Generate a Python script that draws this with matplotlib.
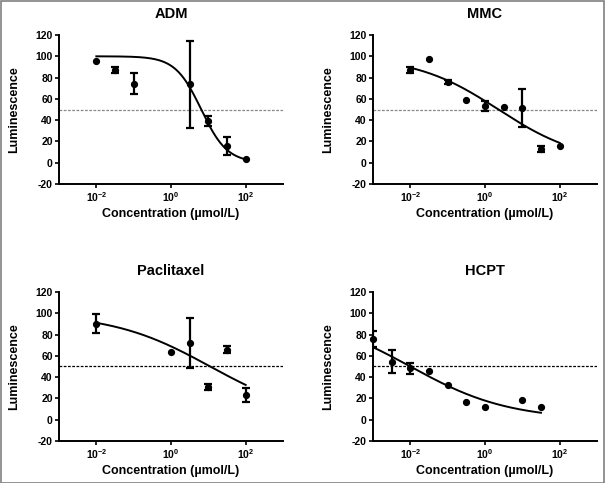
import numpy as np
import matplotlib
matplotlib.use('Agg')
import matplotlib.pyplot as plt
from matplotlib.patches import Rectangle

plt.rcParams['font.family'] = ['Liberation Sans', 'DejaVu Sans']
plt.rcParams['font.weight'] = 'bold'
plt.rcParams['mathtext.fontset'] = 'custom'
plt.rcParams['mathtext.rm'] = 'Liberation Sans:bold'
plt.rcParams['mathtext.it'] = 'Liberation Sans:bold'
plt.rcParams['axes.unicode_minus'] = False

# ADM
adm_x = [0.01, 0.0316, 0.1, 3.16, 10, 31.6, 100]
adm_y = [95.3, 86.8, 74.3, 73.7, 39.2, 15.7, 3.2]
adm_err = [0, 2.8, 10.2, 40.7, 5.0, 8.5, 0]
adm_fit = (100, 0, 0.81, 1.25)  # top, bottom, logIC50, hill
adm_range = (0.01, 100)

# MMC
mmc_x = [0.01, 0.0316, 0.1, 0.316, 1, 3.16, 10, 31.6, 100]
mmc_y = [87.0, 97.4, 76.0, 59.1, 53.2, 52.2, 51.6, 13.3, 15.7]
mmc_err = [2.8, 0, 1.8, 0, 4.8, 0, 17.7, 2.8, 0]
mmc_fit = (100, 0, 0.36, 0.39)
mmc_range = (0.01, 100)

# Paclitaxel
pac_x = [0.01, 1, 3.16, 10, 31.6, 100]
pac_y = [90.3, 64.0, 72.0, 30.7, 65.9, 23.2]
pac_err = [8.8, 0, 23.6, 3.0, 3.5, 6.4]
pac_fit = (100, 0, 1.05, 0.33)
pac_range = (0.01, 100)

# HCPT
hcpt_x = [0.001, 0.00316, 0.01, 0.0316, 0.1, 0.316, 1, 10, 31.6]
hcpt_y = [75.5, 54.5, 48.3, 45.5, 32.6, 16.6, 12.2, 18.8, 12.2]
hcpt_err = [7.5, 10.8, 5.0, 0, 0, 0, 0, 0, 0]
hcpt_fit = (100, 0, -2.0, 0.33)
hcpt_range = (0.001, 31.6)

panels = [
    ('ADM', adm_x, adm_y, adm_err, adm_fit, adm_range, '#888888'),
    ('MMC', mmc_x, mmc_y, mmc_err, mmc_fit, mmc_range, '#888888'),
    ('Paclitaxel', pac_x, pac_y, pac_err, pac_fit, pac_range, 'black'),
    ('HCPT', hcpt_x, hcpt_y, hcpt_err, hcpt_fit, hcpt_range, 'black'),
]

W, H = 605, 483
fig = plt.figure(figsize=(W / 100, H / 100), dpi=100)
fig.patches.append(Rectangle((0.001, 0.001), 0.997, 0.997, transform=fig.transFigure,
                             fill=False, edgecolor='#808080', linewidth=1.2))

# axes boxes in pixels: left, top, right, bottom
boxes = [(59, 35, 283, 184), (373, 35, 597, 184),
         (59, 292, 283, 441), (373, 292, 597, 441)]

for (title, x, y, err, fit, rng, dcol), (l, t, r, b) in zip(panels, boxes):
    ax = fig.add_axes([l / W, 1 - b / H, (r - l) / W, (b - t) / H])
    x = np.array(x)
    y = np.array(y)
    err = np.array(err)

    top, bottom, logc, hill = fit
    xs = np.logspace(np.log10(rng[0]), np.log10(rng[1]), 200)
    ys = bottom + (top - bottom) / (1 + 10 ** ((np.log10(xs) - logc) * hill))
    ax.plot(xs, ys, color='black', lw=1.4, zorder=3)

    ax.axhline(50, color=dcol, lw=0.9, dashes=(2.2, 1.2), zorder=1)

    m = err > 0
    ax.errorbar(x[m], y[m], yerr=err[m], fmt='none', ecolor='black',
                elinewidth=1.6, capsize=2.6, capthick=1.6, zorder=4)
    ax.plot(x, y, 'o', color='black', ms=4.2, zorder=5, clip_on=False)

    ax.set_xscale('log')
    ax.set_xlim(1e-3, 1e3)
    ax.set_ylim(-20, 120)
    ax.set_xticks([1e-2, 1, 1e2])
    ax.set_xticklabels([r'$\mathrm{10^{-2}}$', r'$\mathrm{10^{0}}$', r'$\mathrm{10^{2}}$'])
    ax.minorticks_off()
    ax.set_yticks(range(-20, 121, 20))
    for s in ['top', 'right']:
        ax.spines[s].set_visible(False)
    for s in ['left', 'bottom']:
        ax.spines[s].set_linewidth(1.4)
    ax.tick_params(axis='both', direction='out', length=3, width=1.2,
                   labelsize=7.5, pad=1.5)
    ax.set_title(title, fontsize=10.5, fontweight='bold', pad=12)
    ax.set_ylabel('Luminescence', fontsize=9, fontweight='bold', labelpad=11)
    ax.set_xlabel('Concentration (µmol/L)', fontsize=9, fontweight='bold', labelpad=3)

fig.savefig('out.png', dpi=100)
